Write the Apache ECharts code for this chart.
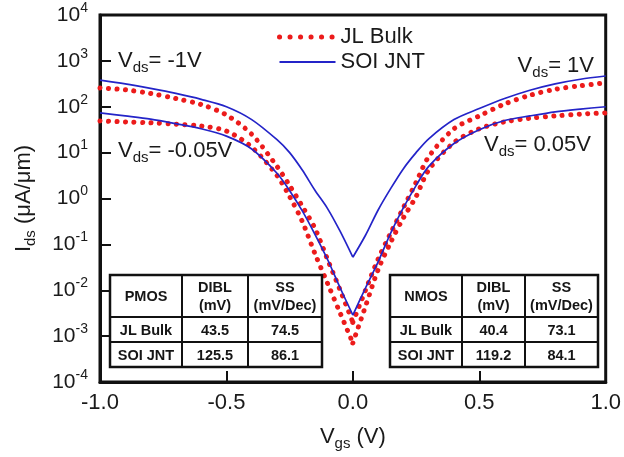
<!DOCTYPE html>
<html><head><meta charset="utf-8">
<script src="https://cdn.jsdelivr.net/npm/echarts@6/dist/echarts.min.js"></script>
<style>html,body{margin:0;padding:0;background:#fff}#c{width:624px;height:457px}</style>
</head><body><div id="c"></div>
<script>
// Gate voltage grid (V)
const vgs = [-1,-0.9,-0.8,-0.7,-0.6,-0.5,-0.4,-0.3,-0.25,-0.2,-0.15,-0.1,-0.05,0,0.05,0.1,0.15,0.2,0.25,0.3,0.4,0.5,0.6,0.7,0.8,0.9,1];
// Drain current (uA/um), |Vds| = 1 V  (PMOS for Vgs<0, NMOS for Vgs>0)
const soiHigh = [380,316,251,195,145,100,52.5,19.1,10,4.17,1.51,0.603,0.191,0.0525,0.158,0.562,1.66,4.47,10,20,52.5,91.2,151,229,316,398,468];
const jlHigh  = [257,234,195,151,112,66.1,25.1,5.01,1.91,0.676,0.224,0.0468,0.01,0.002,0.01,0.0479,0.178,0.631,2.24,8.13,33.1,63.1,115,178,240,288,331];
// |Vds| = 0.05 V
const soiLow  = [73.3,63.1,53.7,42.7,33.1,22.9,12.0,3.55,1.48,0.537,0.166,0.0468,0.0112,0.00288,0.0112,0.0417,0.178,0.631,1.91,5.01,15.8,31.6,50.1,63.1,77.6,89.1,100];
const jlLow   = [49.0,46.8,44.7,41.7,38.0,29.5,13.2,3.16,1.10,0.316,0.0631,0.0141,0.00316,0.000708,0.00447,0.0282,0.112,0.380,1.10,4.17,16.6,33.1,46.8,56.2,63.1,69.2,73.3];

const xTickLabels = {'-1':'-1.0','-0.5':'-0.5','0':'0.0','0.5':'0.5','1':'1.0'};
const seriesNames = ['JL Bulk','SOI JNT'];

const pmosTable = [['PMOS','DIBL\n(mV)','SS\n(mV/Dec)'],['JL Bulk','43.5','74.5'],['SOI JNT','125.5','86.1']];
const nmosTable = [['NMOS','DIBL\n(mV)','SS\n(mV/Dec)'],['JL Bulk','40.4','73.1'],['SOI JNT','119.2','84.1']];

const FONT = '"Liberation Sans", Arial, sans-serif';

function half(vals, side){
  const out = [];
  vgs.forEach((x,i)=>{ if (side<0 ? x<=0 : x>=0) out.push([x, vals[i]]); });
  return out;
}
const redStyle = {color:'#ec1b1b', width:5, type:[0.1, 8.4], cap:'round'};
const blueStyle = {color:'#2424c8', width:1.7};
function mk(name, vals, side, style){
  return {type:'line', name:name, data:half(vals, side), symbol:'none', smooth:0.3,
    lineStyle:style, itemStyle:{color:style.color}, z: style===blueStyle?3:2, animation:false};
}
const series = [];
[jlHigh, jlLow].forEach(v=>{ series.push(mk(seriesNames[0], v, -1, redStyle)); series.push(mk(seriesNames[0], v, 1, redStyle)); });
[soiHigh, soiLow].forEach(v=>{ series.push(mk(seriesNames[1], v, -1, blueStyle)); series.push(mk(seriesNames[1], v, 1, blueStyle)); });

function table(x0, y0, colW, rowH, cells){
  const W = colW.reduce((a,b)=>a+b,0), H = rowH.reduce((a,b)=>a+b,0);
  const ch = [];
  ch.push({type:'rect', shape:{x:x0,y:y0,width:W,height:H}, style:{fill:'#fff', stroke:'#111', lineWidth:2.5}, z:10});
  let x = x0;
  for (let i=0;i<colW.length-1;i++){ x+=colW[i]; ch.push({type:'line', shape:{x1:x,y1:y0,x2:x,y2:y0+H}, style:{stroke:'#111', lineWidth:2}, z:11}); }
  let y = y0;
  for (let j=0;j<rowH.length-1;j++){ y+=rowH[j]; ch.push({type:'line', shape:{x1:x0,y1:y,x2:x0+W,y2:y}, style:{stroke:'#111', lineWidth:2}, z:11}); }
  let yy = y0;
  cells.forEach((row,r)=>{
    let xx = x0;
    row.forEach((t,c)=>{
      ch.push({type:'text', x: xx+colW[c]/2, y: yy+rowH[r]/2+1, z:12,
        style:{text:t, align:'center', verticalAlign:'middle', fontSize:14.5, fontWeight:'bold', fontFamily:FONT, fill:'#151515', lineHeight:18}});
      xx += colW[c];
    });
    yy += rowH[r];
  });
  return ch;
}

const richV = {
  v:{fontSize:22, fontFamily:FONT, color:'#1a1a1a'},
  s:{fontSize:15, fontFamily:FONT, color:'#1a1a1a', padding:[14,0,0,0]}
};
function vds(text, x, y, align){
  return {type:'text', x:x, y:y, z:12, style:{text:'{v|V}{s|ds}{v|'+text+'}', rich:richV, align:align, verticalAlign:'middle', fill:'#1a1a1a'}};
}

const chart = echarts.init(document.getElementById('c'), null, {renderer:'canvas'});
chart.setOption({
  animation:false,
  backgroundColor:'#fff',
  grid:{left:100, right:18, top:15, bottom:75, show:true, borderColor:'#111', borderWidth:3, backgroundColor:'transparent'},
  legend:{orient:'vertical', left:277, top:26, padding:0, itemWidth:56, itemHeight:14, itemGap:3,
    data:[
      {name:seriesNames[0], lineStyle:{width:5, type:[0.1, 10.4], cap:'round', color:redStyle.color}},
      {name:seriesNames[1], lineStyle:{width:1.8, color:blueStyle.color}}
    ],
    itemStyle:{opacity:0},
    textStyle:{fontSize:22, fontFamily:FONT, color:'#1a1a1a'}},
  xAxis:{type:'value', min:-1, max:1, interval:0.5,
    axisLine:{onZero:false, lineStyle:{color:'#111', width:3}},
    axisTick:{inside:true, length:11, lineStyle:{color:'#111', width:2}},
    splitLine:{show:false},
    axisLabel:{fontSize:22, fontFamily:FONT, color:'#1a1a1a', margin:10, formatter:v=>xTickLabels[String(v)] || v.toFixed(1)},
    name:'{v|V}{s|gs}{v| (V)}', nameLocation:'middle', nameGap:40,
    nameTextStyle:{rich:richV}},
  yAxis:{type:'log', logBase:10, min:1e-4, max:1e4, interval:1,
    axisLine:{show:true, onZero:false, lineStyle:{color:'#111', width:3}},
    axisTick:{show:true, inside:true, length:11, lineStyle:{color:'#111', width:2}},
    minorTick:{show:false},
    splitLine:{show:false},
    axisLabel:{margin:12, formatter:v=>'{b|10}{e|'+Math.round(Math.log10(v))+'}',
      rich:{b:{fontSize:21, fontFamily:FONT, color:'#1a1a1a'}, e:{fontSize:14, fontFamily:FONT, color:'#1a1a1a', padding:[0,0,14,0]}}},
    name:'{v|I}{s|ds}{v| (μA/μm)}', nameLocation:'middle', nameGap:62, nameRotate:90,
    nameTextStyle:{rich:richV}},
  series:series,
  graphic:{elements:[
    vds('= -1V', 118, 61, 'left'),
    vds('= -0.05V', 118, 151, 'left'),
    vds('= 1V', 594, 66, 'right'),
    vds('= 0.05V', 591, 145, 'right'),
    ...table(110, 275, [72,66,74], [42,25,25], pmosTable),
    ...table(390, 275, [72,63,73], [42,25,25], nmosTable)
  ]}
});
</script></body></html>
